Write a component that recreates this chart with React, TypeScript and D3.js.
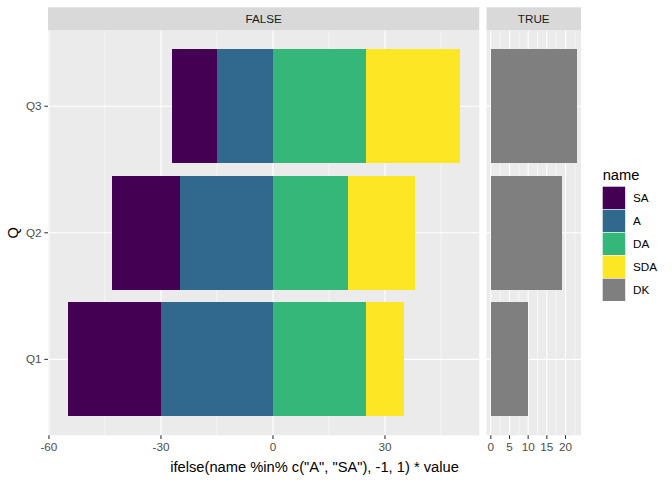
import React from "react";
import * as d3 from "d3";

// survey responses per question (percent)
const questions = ["Q1", "Q2", "Q3"];
const SA = [25, 18, 12];
const A = [30, 25, 15];
const DA = [25, 20, 25];
const SDA = [10, 18, 25];
const DK = [10, 19, 23];

const legendNames = ["SA", "A", "DA", "SDA", "DK"];
const colors: Record<string, string> = {
  SA: "#440154",
  A: "#31688E",
  DA: "#35B779",
  SDA: "#FDE725",
  DK: "#7F7F7F",
};

const falseTicks = [-60, -30, 0, 30];
const falseMinor = [-45, -15, 15, 45];
const trueTicks = [0, 5, 10, 15, 20];
const trueMinor = [2.5, 7.5, 12.5, 17.5, 22.5];

const W = 672;
const H = 480;
const FONT = "'Liberation Sans', Arial, sans-serif";

export default function App() {
  const rows = questions.map((q, i) => ({
    q,
    A: -A[i],
    SA: -SA[i],
    DA: DA[i],
    SDA: SDA[i],
  }));
  const stacked = d3
    .stack<any>()
    .keys(["A", "SA", "DA", "SDA"])
    .offset(d3.stackOffsetDiverging)(rows);

  const fMin = d3.min(stacked, (s) => d3.min(s, (d) => d[0]))!;
  const fMax = d3.max(stacked, (s) => d3.max(s, (d) => d[1]))!;
  const tMax = d3.max(DK)!;
  const fPad = (fMax - fMin) * 0.05;
  const tPad = tMax * 0.05;
  const fDom = [fMin - fPad, fMax + fPad];
  const tDom = [-tPad, tMax + tPad];

  const left = 48;
  const right = 581;
  const gap = 7.3;
  const top = 30.3;
  const bottom = 435.3;
  const stripTop = 7.3;
  const units = fDom[1] - fDom[0] + (tDom[1] - tDom[0]);
  const k = (right - left - gap) / units;
  const fW = (fDom[1] - fDom[0]) * k;
  const tLeft = left + fW + gap;

  const xF = d3.scaleLinear().domain(fDom).range([left, left + fW]);
  const xT = d3.scaleLinear().domain(tDom).range([tLeft, right]);
  const y = d3.scalePoint().domain(questions).range([bottom, top]).padding(0.6);
  const bh = y.step() * 0.9;

  const panel = (x0: number, x1: number, x: d3.ScaleLinear<number, number>, major: number[], minor: number[], label: string) => (
    <g>
      <rect x={x0} y={top} width={x1 - x0} height={bottom - top} fill="#EBEBEB" />
      {minor.map((v) => (
        <line key={"m" + v} x1={x(v)} x2={x(v)} y1={top} y2={bottom} stroke="#fff" strokeWidth={0.53} />
      ))}
      {major.map((v) => (
        <line key={"M" + v} x1={x(v)} x2={x(v)} y1={top} y2={bottom} stroke="#fff" strokeWidth={1.07} />
      ))}
      {questions.map((q) => (
        <line key={q} x1={x0} x2={x1} y1={y(q)} y2={y(q)} stroke="#fff" strokeWidth={1.07} />
      ))}
      <rect x={x0} y={stripTop} width={x1 - x0} height={top - stripTop} fill="#D9D9D9" />
      <text x={(x0 + x1) / 2} y={(stripTop + top) / 2 + 4} textAnchor="middle" fontSize={11.7} fill="#1A1A1A">
        {label}
      </text>
      {major.map((v) => (
        <g key={"t" + v}>
          <line x1={x(v)} x2={x(v)} y1={bottom} y2={bottom + 3.67} stroke="#333333" strokeWidth={1.07} />
          <text x={x(v)} y={bottom + 15.5} textAnchor="middle" fontSize={11.7} fill="#4D4D4D">
            {v}
          </text>
        </g>
      ))}
    </g>
  );

  return (
    <svg width={W} height={H} style={{ position: "absolute", left: 0, top: 0, fontFamily: FONT }}>
      <rect width={W} height={H} fill="#fff" />
      {panel(left, left + fW, xF, falseTicks, falseMinor, "FALSE")}
      {panel(tLeft, right, xT, trueTicks, trueMinor, "TRUE")}

      <g shapeRendering="crispEdges">
        {stacked.map((s) =>
          s.map((d, i) => (
            <rect
              key={s.key + i}
              x={xF(d[0])}
              width={xF(d[1]) - xF(d[0])}
              y={y(d.data.q)! - bh / 2}
              height={bh}
              fill={colors[s.key]}
            />
          ))
        )}
        {DK.map((v, i) => (
          <rect
            key={"dk" + i}
            x={xT(0)}
            width={xT(v) - xT(0)}
            y={y(questions[i])! - bh / 2}
            height={bh}
            fill={colors.DK}
          />
        ))}
      </g>

      {questions.map((q) => (
        <g key={"y" + q}>
          <line x1={left - 3.67} x2={left} y1={y(q)} y2={y(q)} stroke="#333333" strokeWidth={1.07} />
          <text x={left - 6.5} y={y(q)! + 4} textAnchor="end" fontSize={11.7} fill="#4D4D4D">
            {q}
          </text>
        </g>
      ))}

      <text x={(left + right) / 2} y={472} textAnchor="middle" fontSize={14.7} fill="#000">
        ifelse(name %in% c("A", "SA"), -1, 1) * value
      </text>
      <text
        transform={`translate(${17.5},${(top + bottom) / 2}) rotate(-90)`}
        textAnchor="middle"
        fontSize={14.7}
        fill="#000"
      >
        Q
      </text>

      <g transform="translate(602.7,0)">
        <text x={0} y={180} fontSize={14.7} fill="#000">
          name
        </text>
        {legendNames.map((n, i) => (
          <g key={n} transform={`translate(0,${186.7 + i * 23})`}>
            <rect x={0} y={0} width={22.5} height={22.3} fill={colors[n]} />
            <text x={30.3} y={15.5} fontSize={11.7} fill="#000">
              {n}
            </text>
          </g>
        ))}
      </g>
    </svg>
  );
}
